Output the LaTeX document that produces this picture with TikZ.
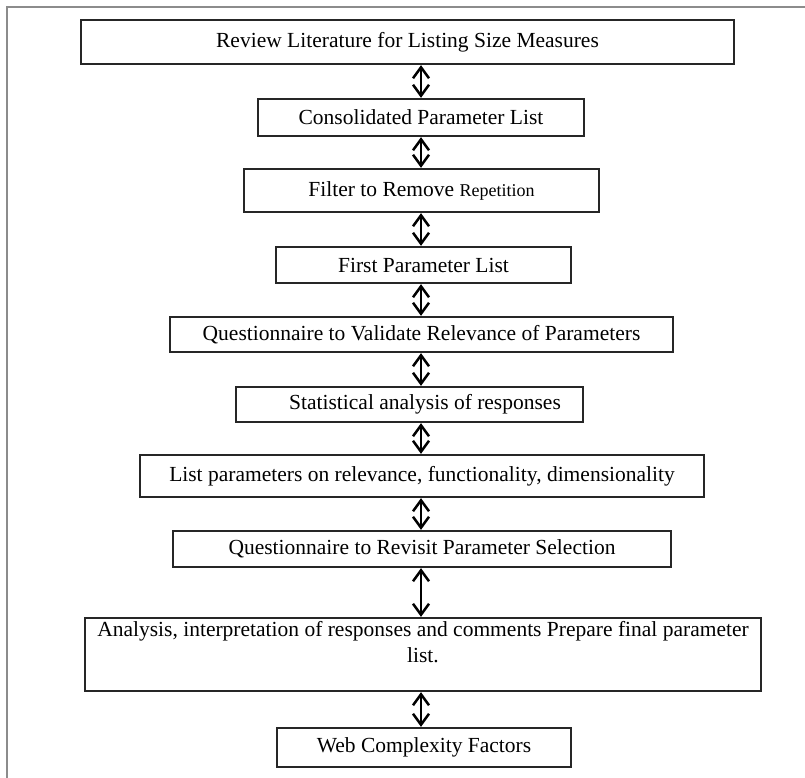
\documentclass[tikz,border=0pt]{standalone}
\usepackage{fontspec}
\setmainfont{Liberation Serif}
\usetikzlibrary{arrows.meta}
\begin{document}
\begin{tikzpicture}[x=1pt,y=-1pt,
  box/.style={draw=black!85,line width=1.3pt,inner sep=0pt,align=center,
    font=\fontsize{21.5pt}{26pt}\selectfont},
  lbl/.style={inner sep=0pt,align=center,font=\fontsize{21.5pt}{26pt}\selectfont},
  dbl/.style={line width=2.5pt,{Straight Barb[length=11pt,width=16pt]}-{Straight Barb[length=11pt,width=16pt]},shorten <=0.5pt,shorten >=0.5pt},
  frame/.style={draw=black!45,line width=2.5pt}]
\useasboundingbox (0,0) rectangle (805,778);
% page frame
\draw[frame] (7,778) -- (7,7) -- (805,7);

% process steps
\node[box,minimum width=653pt,minimum height=44pt] (n1) at (407.5,42) {Review Literature for Listing Size Measures};
\node[box,minimum width=326pt,minimum height=37pt] (n2) at (421,117.5) {Consolidated Parameter List};
\node[box,minimum width=355pt,minimum height=43pt] (n3) at (421.5,190.5) {Filter to Remove {\fontsize{18pt}{22pt}\selectfont Repetition}};
\node[box,minimum width=295pt,minimum height=36pt] (n4) at (423.5,265) {First Parameter List};
\node[box,minimum width=503pt,minimum height=35pt] (n5) at (421.5,334.5) {Questionnaire to Validate Relevance of Parameters};
\node[box,minimum width=347pt,minimum height=35pt] (n6) at (409.5,404.5) {};
\node[lbl] (t6) at (425,404.5) {Statistical analysis of responses};
\node[box,minimum width=564pt,minimum height=42pt] (n7) at (422,476) {List parameters on relevance, functionality, dimensionality};
\node[box,minimum width=498pt,minimum height=36pt] (n8) at (422,549) {Questionnaire to Revisit Parameter Selection};
\node[box,minimum width=676pt,minimum height=73pt] (n9) at (423,654.5) {};
\node[lbl,anchor=north] (t9) at ([yshift=-4pt]n9.north) {Analysis, interpretation of responses and comments Prepare final parameter\\list.};
\node[box,minimum width=294pt,minimum height=39pt] (n10) at (424,747.5) {Web Complexity Factors};

% two-way links between consecutive steps
\coordinate (ax) at (421,0);
\foreach \a/\b in {n1/n2,n2/n3,n3/n4,n4/n5,n5/n6,n6/n7,n7/n8,n8/n9,n9/n10}
  \draw[dbl] (\a.south -| ax) -- (\b.north -| ax);
\end{tikzpicture}
\end{document}
